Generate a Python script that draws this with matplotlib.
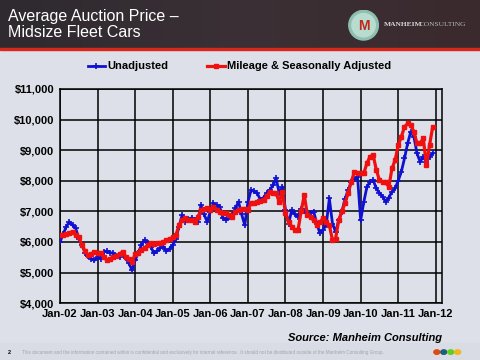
import matplotlib
matplotlib.use("Agg")
import matplotlib.pyplot as plt
from matplotlib.patches import Rectangle, Circle
import numpy as np

plt.rcParams['font.family'] = ['Liberation Sans', 'DejaVu Sans']

# monthly values, Jan-02 .. Dec-11
unadjusted = [
    6000, 6250, 6500, 6650, 6550, 6450, 6100, 5900, 5650, 5550, 5450, 5400,
    5500, 5450, 5680, 5700, 5650, 5630, 5550, 5510, 5600, 5470, 5300, 5080,
    5400, 5650, 5900, 6060, 5950, 5840, 5630, 5700, 5800, 5850, 5700, 5780,
    5900, 6100, 6500, 6880, 6660, 6750, 6780, 6700, 6660, 7200, 6900, 6660,
    6990, 7260, 7200, 7150, 6780, 6720, 6800, 6880, 7100, 7310, 6900, 6550,
    7300, 7690, 7650, 7590, 7370, 7450, 7590, 7700, 7850, 8080, 7590, 7800,
    7040, 6600, 7040, 6900, 6820, 7090, 7000, 6930, 6950, 6990, 6600, 6280,
    6400, 6550, 7420, 6600, 6330, 6700, 6990, 7400, 7690, 7960, 8050, 8130,
    6710, 7300, 7800, 7960, 8020, 7750, 7600, 7480, 7310, 7450, 7640, 7750,
    8000, 8300, 8730, 9220, 9600, 9440, 8890, 8620, 8790, 8620, 8790, 8890,
]
adjusted = [
    6220, 6230, 6260, 6300, 6330, 6220, 6150, 5900, 5700, 5570, 5600, 5680,
    5650, 5630, 5500, 5400, 5450, 5510, 5550, 5600, 5680, 5510, 5450, 5350,
    5600, 5650, 5750, 5800, 5900, 5960, 5930, 5950, 5960, 6000, 6060, 6100,
    6150, 6220, 6550, 6700, 6770, 6720, 6700, 6660, 6800, 7040, 7080, 7100,
    7050, 7150, 7050, 6990, 6950, 6930, 6880, 6820, 6990, 7050, 7090, 7060,
    7040, 7260, 7280, 7310, 7340, 7370, 7500, 7640, 7600, 7590, 7310, 7640,
    6930, 6660, 6500, 6390, 6390, 7000, 7530, 6880, 6800, 6710, 6550, 6650,
    6770, 6650, 6550, 6060, 6110, 6710, 7000, 7260, 7600, 7960, 8290, 8260,
    8240, 8240, 8570, 8790, 8840, 8350, 8020, 7960, 7950, 7800, 8400, 8670,
    9160, 9440, 9760, 9870, 9820, 9600, 9220, 9220, 9380, 8510, 9160, 9760,
]
x_labels = ['Jan-02', 'Jan-03', 'Jan-04', 'Jan-05', 'Jan-06', 'Jan-07',
            'Jan-08', 'Jan-09', 'Jan-10', 'Jan-11', 'Jan-12']
y_ticks = [4000, 5000, 6000, 7000, 8000, 9000, 10000, 11000]

months = np.arange(len(unadjusted))

fig = plt.figure(figsize=(4.8, 3.6), dpi=100)
fig.patch.set_facecolor('#dde0e8')

# header band
hdr = fig.add_axes([0, 0.865, 1, 0.135])
grad = np.linspace(0, 1, 200).reshape(1, -1)
hdr.imshow(grad, aspect='auto', cmap=matplotlib.colors.LinearSegmentedColormap.from_list(
    'h', ['#2e2a30', '#3a3035', '#3b2a2e']), extent=[0, 1, 0, 1])
hdr.set_xlim(0, 1)
hdr.set_ylim(0, 1)
hdr.axis('off')
fig.patches.append(Rectangle((0, 0.862), 1, 0.005, transform=fig.transFigure,
                             color='#d8281c', zorder=5))
fig.patches.append(Rectangle((0, 0), 1, 0.048, transform=fig.transFigure,
                             color='#d9dce4', zorder=0))

fig.text(0.017, 0.975, 'Average Auction Price \u2013\nMidsize Fleet Cars',
         color='white', fontsize=11.5, va='top', ha='left', linespacing=1.1)

# logo
logo = fig.add_axes([0.725, 0.885, 0.065, 0.09])
logo.set_xlim(-1, 1)
logo.set_ylim(-1, 1)
logo.set_aspect('equal')
logo.axis('off')
logo.add_patch(Circle((0, 0), 0.95, color='#8fbfb0'))
logo.add_patch(Circle((0, 0), 0.75, color='#b8dccf'))
logo.text(0, -0.05, 'M', color='#c0281c', fontsize=10, fontweight='bold',
          ha='center', va='center')
fig.text(0.8, 0.932, 'MANHEIM', color='#d8d8d8', fontsize=5.4,
         family='Liberation Serif', fontweight='bold', va='center')
fig.text(0.874, 0.932, 'CONSULTING', color='#b8b8b8', fontsize=5.4,
         family='Liberation Serif', va='center')

ax = fig.add_axes([0.125, 0.158, 0.796, 0.595])
ax.set_facecolor('none')
ax.plot(months, unadjusted, color='#1010d0', lw=2, marker='+', ms=4, mew=1.2,
        label='Unadjusted', zorder=3)
ax.plot(months, adjusted, color='#f01010', lw=2.3, marker='s', ms=3,
        label='Mileage & Seasonally Adjusted', zorder=4)

ax.set_xlim(0, 122)
ax.set_ylim(4000, 11000)
ax.set_xticks(np.arange(0, 121, 12))
ax.set_xticklabels(x_labels)
ax.set_yticks(y_ticks)
ax.set_yticklabels(['${:,}'.format(v) for v in y_ticks])
ax.grid(True, color='black', lw=1.1)
ax.tick_params(length=0, pad=4, labelsize=8)
for lab in ax.get_xticklabels() + ax.get_yticklabels():
    lab.set_fontweight('bold')
for s in ax.spines.values():
    s.set_color('black')
    s.set_linewidth(1.1)

leg = ax.legend(loc='center', bbox_to_anchor=(0.47, 1.105), ncol=2,
                frameon=False, handlelength=1.6, handletextpad=0.2,
                columnspacing=3.5, prop={'weight': 'bold', 'size': 8})

fig.text(0.92, 0.062, 'Source: Manheim Consulting', fontsize=8,
         fontweight='bold', style='italic', ha='right', va='center')
fig.text(0.017, 0.022, '2', fontsize=4, fontweight='bold', va='center')
fig.text(0.045, 0.022, 'This document and the information contained within is confidential '
         'and exclusively for internal reference.  It should not be distributed '
         'outside of the Manheim Consulting Group.', fontsize=3.3,
         color='#a0a4ac', va='center')
for i, c in enumerate(['#e04a10', '#1f5f7a', '#60d020', '#f0b820']):
    fig.patches.append(Circle((0.91 + i * 0.0145, 0.022), 0.0062,
                              transform=fig.transFigure, color=c))

fig.savefig('out.png', dpi=100, facecolor=fig.get_facecolor())
